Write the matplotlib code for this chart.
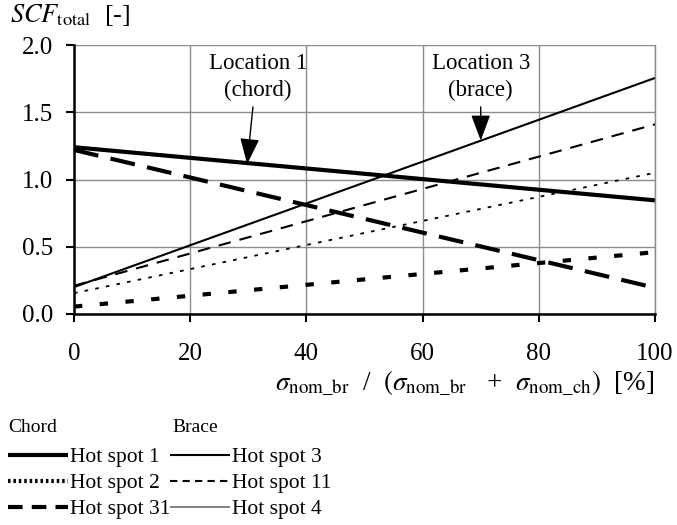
import matplotlib
matplotlib.use("Agg")
import matplotlib.pyplot as plt
from matplotlib.lines import Line2D

plt.rcParams['font.family'] = ['Liberation Serif', 'DejaVu Serif']
plt.rcParams['mathtext.fontset'] = 'stix'

# data
x_pct = [0, 100]
chord_labels = ['Hot spot 1', 'Hot spot 2', 'Hot spot 31']
chord_values = {
    'Hot spot 1': [1.24, 0.845],
    'Hot spot 2': [0.055, 0.46],
    'Hot spot 31': [1.22, 0.195],
}
brace_labels = ['Hot spot 3', 'Hot spot 11', 'Hot spot 4']
brace_values = {
    'Hot spot 3': [0.20, 1.755],
    'Hot spot 11': [0.21, 1.41],
    'Hot spot 4': [0.155, 1.05],
}
x_ticks = [0, 20, 40, 60, 80, 100]
y_ticks = [0.0, 0.5, 1.0, 1.5, 2.0]

styles = {
    'Hot spot 1': dict(lw=3.0, ls='-'),
    'Hot spot 2': dict(lw=3.0, ls=(0, (2, 4.2))),
    'Hot spot 31': dict(lw=3.0, ls=(0, (6, 3))),
    'Hot spot 3': dict(lw=1.5, ls='-'),
    'Hot spot 11': dict(lw=1.5, ls=(0, (6, 4.3))),
    'Hot spot 4': dict(lw=1.3, ls=(0, (2, 4))),
}
legend_styles = {
    'Hot spot 1': dict(lw=3.0, ls='-', color='black'),
    'Hot spot 2': dict(lw=3.0, ls=(0, (0.6, 0.7)), color='black'),
    'Hot spot 31': dict(lw=3.0, ls=(0, (3.5, 2.2)), color='black'),
    'Hot spot 3': dict(lw=1.5, ls='-', color='black'),
    'Hot spot 11': dict(lw=1.5, ls=(0, (3.5, 2.5)), color='black'),
    'Hot spot 4': dict(lw=1.4, ls='-', color='#808080'),
}

fig = plt.figure(figsize=(6.77, 5.25), dpi=100)
ax = fig.add_axes([74/677, 1-314/525, (655-74)/677, (314-45)/525])

for lab in chord_labels:
    ax.plot(x_pct, chord_values[lab], color='black', solid_capstyle='butt',
            dash_capstyle='butt', label=lab, **styles[lab])
for lab in brace_labels:
    ax.plot(x_pct, brace_values[lab], color='black', solid_capstyle='butt',
            dash_capstyle='butt', label=lab, **styles[lab])

ax.set_xlim(0, 100)
ax.set_ylim(0, 2.0)
ax.set_xticks(x_ticks)
ax.set_yticks(y_ticks)
ax.set_xticklabels([str(v) for v in x_ticks])
ax.set_yticklabels([f'{v:.1f}' for v in y_ticks])
ax.grid(True, color='#8c8c8c', lw=1.0)
ax.set_axisbelow(True)
ax.tick_params(axis='both', labelsize=18, length=6, width=1.5, color='black', direction='out')
ax.tick_params(axis='y', pad=9)
ax.tick_params(axis='x', pad=15)
ax.spines['top'].set_visible(False)
ax.spines['right'].set_color('#8c8c8c')
ax.spines['right'].set_linewidth(1.0)
ax.spines['left'].set_linewidth(1.8)
ax.spines['bottom'].set_linewidth(1.8)

# annotations
ax.text(31.7, 1.86, 'Location 1', ha='center', va='center', fontsize=16.5)
ax.text(31.7, 1.66, '(chord)', ha='center', va='center', fontsize=16.5)
ax.text(70.0, 1.86, 'Location 3', ha='center', va='center', fontsize=16.5)
ax.text(70.0, 1.66, '(brace)', ha='center', va='center', fontsize=16.5)
arrowprops = dict(arrowstyle='-|>,head_length=1.6,head_width=0.6', color='black', lw=1.0,
                  shrinkA=0, shrinkB=0)
ax.annotate('', xy=(29.8, 1.115), xytext=(30.8, 1.54), arrowprops=arrowprops)
ax.annotate('', xy=(70.0, 1.29), xytext=(70.0, 1.54), arrowprops=arrowprops)

fig.text(10/677, 1-2/525, r'$SCF_{\mathrm{total}}$  [-]', ha='left', va='top', fontsize=19)
fig.text(655/677, 1-383/525,
         r'$\sigma_{\mathrm{nom\_br}}$  /  $(\sigma_{\mathrm{nom\_br}}$   +  $\sigma_{\mathrm{nom\_ch}})$  [%]',
         ha='right', va='center', fontsize=19.5)

# legend
fig.text(8/677, 1-428/525, 'Chord', ha='left', va='center', fontsize=14)
fig.text(172/677, 1-428/525, 'Brace', ha='left', va='center', fontsize=14)
chord_handles = [Line2D([], [], dash_capstyle='butt', solid_capstyle='butt', **legend_styles[l])
                 for l in chord_labels]
brace_handles = [Line2D([], [], dash_capstyle='butt', solid_capstyle='butt', **legend_styles[l])
                 for l in brace_labels]
leg_kw = dict(loc='upper left', frameon=False, fontsize=15.5,
              handlelength=2.8, handletextpad=0.1, labelspacing=0.28,
              borderpad=0, borderaxespad=0)
fig.legend(handles=chord_handles, labels=chord_labels, bbox_to_anchor=(8/677, 1-447/525), **leg_kw)
fig.legend(handles=brace_handles, labels=brace_labels, bbox_to_anchor=(170/677, 1-447/525), **leg_kw)

fig.savefig('out.png', dpi=100)
